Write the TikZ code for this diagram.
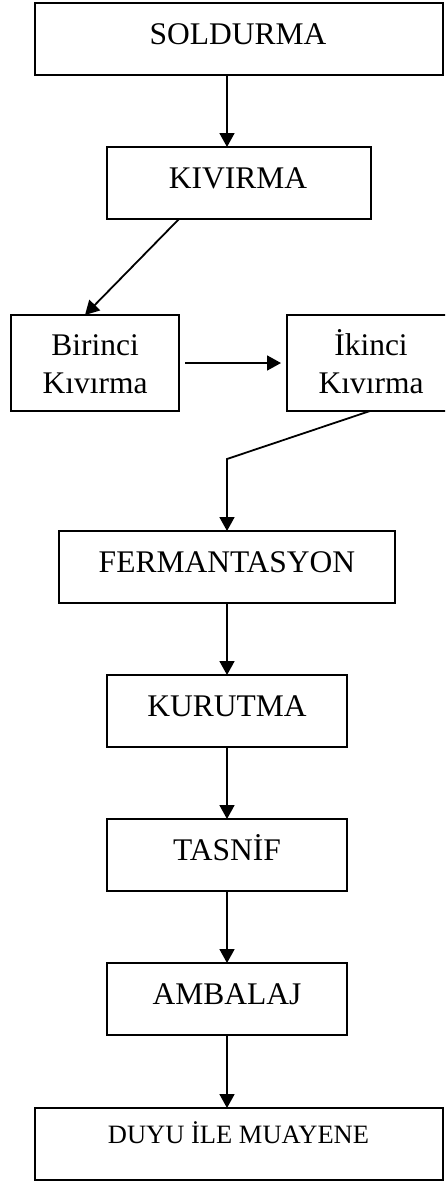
\documentclass[tikz,border=0pt]{standalone}
\usepackage{fontspec}
\setmainfont{Liberation Serif}
\usetikzlibrary{arrows.meta}
\begin{document}
\begin{tikzpicture}[x=1pt,y=-1pt,
  box/.style={draw, line width=2pt, inner sep=0pt, outer sep=0pt, minimum height=72pt},
  lbl/.style={anchor=base, inner sep=0pt, font=\fontsize{31.5}{38}\selectfont},
  slbl/.style={anchor=base, inner sep=0pt, font=\fontsize{26.5}{32}\selectfont},
  arr/.style={line width=1.8pt, -{Triangle[length=14pt,width=15pt]}}]
\useasboundingbox (0,0) rectangle (445,1183);
\clip (0,0) rectangle (445,1183);
% boxes
\node[box, minimum width=408pt] (s) at (239,39) {};
\node[box, minimum width=264pt] (k) at (239,183) {};
\node[box, minimum width=168pt, minimum height=96pt] (b1) at (95,363) {};
\node[box, minimum width=168pt, minimum height=96pt] (b2) at (371,363) {};
\node[box, minimum width=336pt] (f) at (227,567) {};
\node[box, minimum width=240pt] (ku) at (227,711) {};
\node[box, minimum width=240pt] (t) at (227,855) {};
\node[box, minimum width=240pt] (a) at (227,999) {};
\node[box, minimum width=408pt] (d) at (239,1144) {};
% labels
\node[lbl] (sl) at (238,44) {SOLDURMA};
\node[lbl] (kl) at (238,188) {KIVIRMA};
\node[lbl] (b1l1) at (95,355) {Birinci};
\node[lbl] (b1l2) at (95,393) {Kıvırma};
\node[lbl] (b2l1) at (371,355) {İkinci};
\node[lbl] (b2l2) at (371,393) {Kıvırma};
\node[lbl] (fl) at (227,572) {FERMANTASYON};
\node[lbl] (kul) at (227,716) {KURUTMA};
\node[lbl] (tl) at (227,860) {TASNİF};
\node[lbl] (al) at (227,1004) {AMBALAJ};
\node[slbl] (dl) at (238.5,1143) {DUYU İLE MUAYENE};
% connectors
\coordinate (j) at (227,459);
\draw[arr] (s.south -| f.center) -- (k.north -| f.center);
\draw[arr] ([xshift=72pt]k.south west) -- ([xshift=-10pt]b1.north);
\draw[arr] ([xshift=6pt]b1.east) -- ([xshift=-6pt]b2.west);
\draw[arr] ([xshift=-1pt]b2.south) -- (j) -- (f.north);
\draw[arr] (f.south) -- (ku.north);
\draw[arr] (ku.south) -- (t.north);
\draw[arr] (t.south) -- (a.north);
\draw[arr] (a.south) -- (d.north -| a.south);
\end{tikzpicture}
\end{document}
